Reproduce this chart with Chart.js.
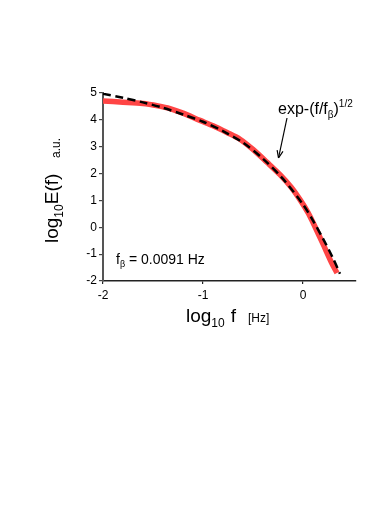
<!DOCTYPE html>
<html>
<head>
<meta charset="utf-8">
<script src="https://cdn.jsdelivr.net/npm/chart.js@4.4.1/dist/chart.umd.min.js"></script>
<style>
html,body{margin:0;padding:0;background:#fff;}
#wrap{position:relative;width:390px;height:510px;}
</style>
</head>
<body>
<div id="wrap"><canvas id="c" width="390" height="510"></canvas></div>
<script>
// measured spectrum (log10 f, log10 E)
const measuredLogF = [-2.0, -1.8, -1.6, -1.45, -1.33, -1.2, -1.03, -0.9, -0.76, -0.63, -0.5, -0.36, -0.23, -0.12, -0.03, 0.05, 0.1, 0.2, 0.29, 0.34];
const measuredLogE = [4.70, 4.66, 4.61, 4.52, 4.42, 4.25, 3.98, 3.78, 3.53, 3.28, 2.9, 2.42, 1.96, 1.5, 1.03, 0.55, 0.18, -0.62, -1.35, -1.70];
// stretched exponential fit exp-(f/fβ)^1/2
const fitLogF = [-2.0, -1.8, -1.6, -1.4, -1.2, -1.0, -0.8, -0.6, -0.4, -0.2, 0.0, 0.1, 0.2, 0.3, 0.37];
const fitLogE = [4.97, 4.82, 4.65, 4.45, 4.2, 3.93, 3.58, 3.15, 2.55, 1.8, 0.85, 0.25, -0.42, -1.15, -1.73];
const xTicks = [-2, -1, 0];
const yTicks = [-2, -1, 0, 1, 2, 3, 4, 5];

const FONT = "'Liberation Sans', Arial, sans-serif";

function pts(xs, ys){ return xs.map((x,i)=>({x:x, y:ys[i]})); }

// draw a sequence of text runs: [text, size, dy]
function runs(ctx, x, y, parts, color){
  ctx.fillStyle = color || '#000';
  ctx.textBaseline = 'alphabetic';
  ctx.textAlign = 'left';
  let cx = x;
  for (const [t, s, dy] of parts){
    ctx.font = s + 'px ' + FONT;
    ctx.fillText(t, cx, y + dy);
    cx += ctx.measureText(t).width;
  }
  return cx;
}

const textPlugin = {
  id: 'texts',
  afterDraw(chart){
    const ctx = chart.ctx;
    ctx.save();
    // x axis title
    let e = runs(ctx, 186, 322, [['log',19,0],['10',12,5]], '#000');
    runs(ctx, e + 6, 322, [['f',19,0]], '#000');
    runs(ctx, 248, 322, [['[Hz]',12,0]], '#000');
    // y axis title (rotated)
    ctx.save();
    ctx.translate(58, 243);
    ctx.rotate(-Math.PI/2);
    runs(ctx, 0, 0, [['log',19,0],['10',12,5],['E(f)',19,0]], '#000');
    ctx.restore();
    ctx.save();
    ctx.translate(60, 158);
    ctx.rotate(-Math.PI/2);
    runs(ctx, 0, 0, [['a.u.',12,0]], '#000');
    ctx.restore();
    // f_beta annotation
    runs(ctx, 116, 264, [['f',14,0],['β',9,3],[' = 0.0091 Hz',14,0]], '#000');
    // fit label
    runs(ctx, 278, 114, [['exp-(f/f',16,0],['β',10,4],[')',16,0],['1/2',10,-7]], '#000');
    // arrow
    const x0 = 287, y0 = 118, x1 = 278.5, y1 = 158;
    ctx.strokeStyle = '#000'; ctx.lineWidth = 1.2;
    ctx.beginPath(); ctx.moveTo(x0,y0); ctx.lineTo(x1,y1); ctx.stroke();
    const ang = Math.atan2(y1-y0, x1-x0);
    const L = 8, W = 0.38;
    ctx.beginPath();
    ctx.moveTo(x1,y1);
    ctx.lineTo(x1 - L*Math.cos(ang-W), y1 - L*Math.sin(ang-W));
    ctx.moveTo(x1,y1);
    ctx.lineTo(x1 - L*Math.cos(ang+W), y1 - L*Math.sin(ang+W));
    ctx.stroke();
    ctx.restore();
  }
};

new Chart(document.getElementById('c'), {
  type: 'scatter',
  data: {
    datasets: [
      {
        label: 'measured',
        data: pts(measuredLogF, measuredLogE),
        showLine: true,
        borderColor: '#ff4545',
        backgroundColor: '#ff4545',
        borderWidth: 5.5,
        pointRadius: 0,
        tension: 0.3,
        borderCapStyle: 'butt',
        order: 2
      },
      {
        label: 'fit',
        data: pts(fitLogF, fitLogE),
        showLine: true,
        borderColor: '#000',
        borderWidth: 2.5,
        borderDash: [8, 4.5],
        pointRadius: 0,
        tension: 0.3,
        order: 1
      }
    ]
  },
  options: {
    responsive: false,
    animation: false,
    events: [],
    layout: { padding: { left: 0, top: 93, right: 34, bottom: 0 } },
    plugins: { legend: { display: false }, tooltip: { enabled: false }, title: { display: false } },
    scales: {
      x: {
        type: 'linear', min: -2, max: 0.53,
        afterFit(s){ s.height = 229; },
        afterBuildTicks(s){ s.ticks = xTicks.map(v=>({value:v})); },
        border: { display: true, color: '#222', width: 1.5 },
        grid: { display: true, drawOnChartArea: false, drawTicks: true, tickLength: 3, color: '#222', lineWidth: 1.2 },
        ticks: { color: '#000', font: { family: FONT, size: 12 }, padding: 4, maxRotation: 0 }
      },
      y: {
        type: 'linear', min: -2, max: 5,
        afterFit(s){ s.width = 103; },
        afterBuildTicks(s){ s.ticks = yTicks.map(v=>({value:v})); },
        border: { display: true, color: '#555', width: 2 },
        grid: { display: true, drawOnChartArea: false, drawTicks: true, tickLength: 4, color: '#444', lineWidth: 1.2 },
        ticks: { color: '#000', font: { family: FONT, size: 12 }, padding: 2 }
      }
    }
  },
  plugins: [textPlugin]
});
</script>
</body>
</html>
